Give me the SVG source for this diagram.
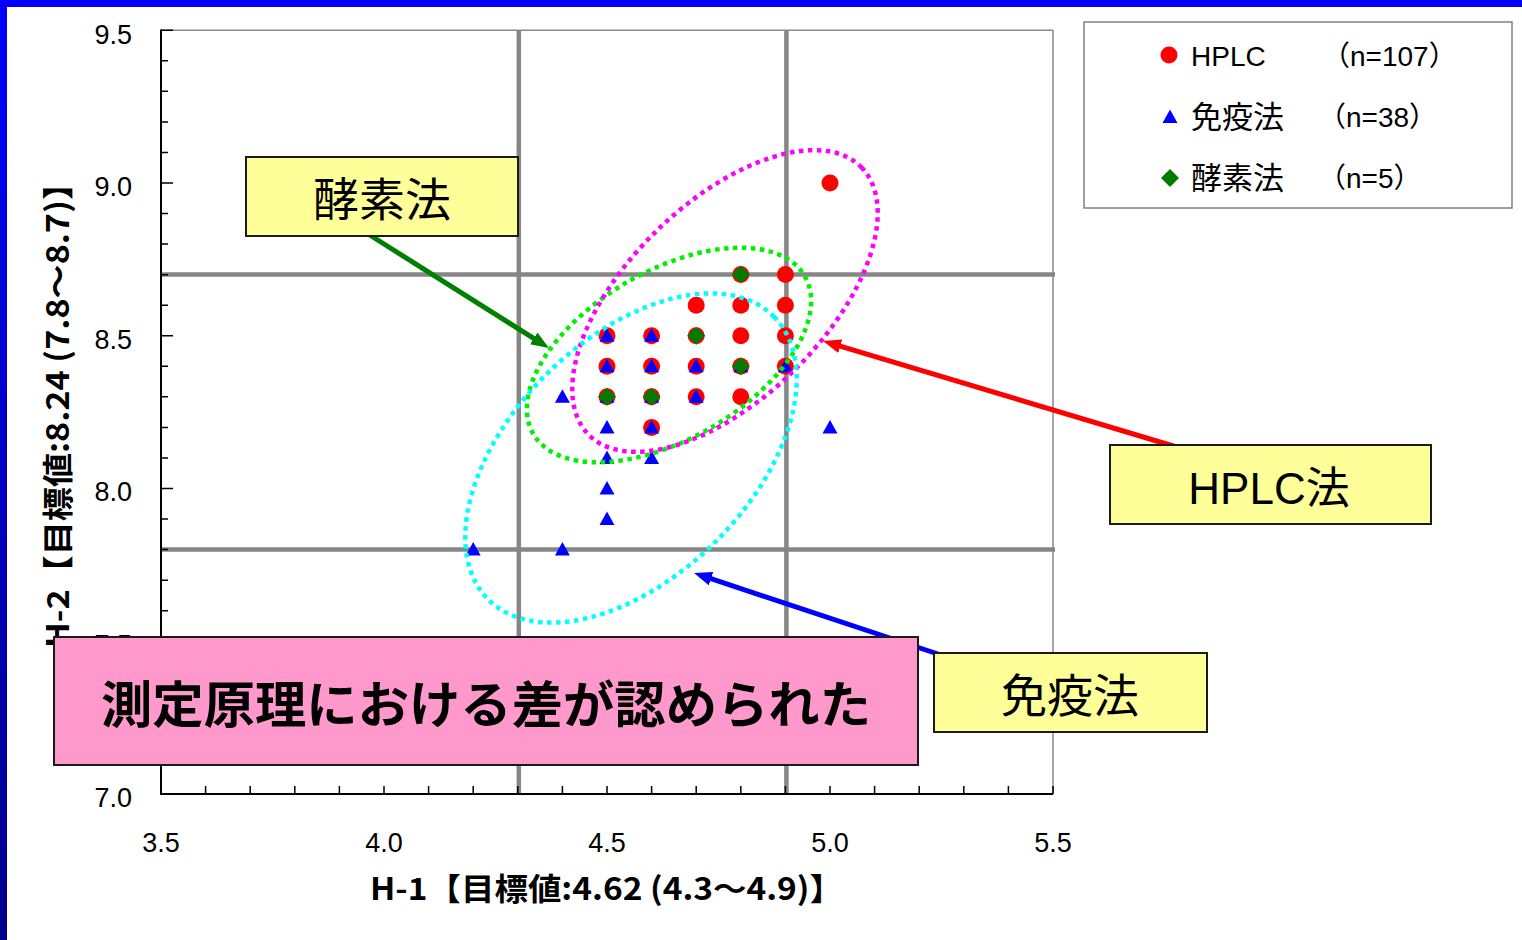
<svg xmlns="http://www.w3.org/2000/svg" xmlns:xlink="http://www.w3.org/1999/xlink" width="1522" height="940" viewBox="0 0 1522 940">
<style>
.tick{stroke:#000;stroke-width:1.5}
.grid{stroke:#868686;stroke-width:4.5}
.lbl{font-family:"Liberation Sans","Noto Sans CJK JP",sans-serif;font-size:27px;fill:#000}
.ttl{font-family:"Noto Sans CJK JP","Liberation Sans",sans-serif;font-size:31px;font-weight:bold;fill:#000}
.box{fill:#ffff99;stroke:#1a1a1a;stroke-width:2}
.btxt{font-family:"Noto Sans CJK JP",sans-serif;font-size:46px;fill:#000;text-anchor:middle}
.htxt{font-family:"Liberation Sans","Noto Sans CJK JP",sans-serif;font-size:44px;fill:#000;text-anchor:middle}
.leg{font-family:"Liberation Sans","Noto Sans CJK JP",sans-serif;font-size:28px;fill:#000}
.legj{font-family:"Noto Sans CJK JP",sans-serif;font-size:31px;fill:#000}
.dot{fill:none;stroke-width:4.5;stroke-dasharray:4.5 4.5}
.r{fill:#ff0000}
.b{fill:#0000ff}
.g{fill:#007a00}
.conn{stroke-width:5;fill:none}
</style>
<defs>
<linearGradient id="lg" x1="0" y1="0" x2="0" y2="1">
<stop offset="0" stop-color="#0000ff"/>
<stop offset="1" stop-color="#00008a"/>
</linearGradient>
<path id="tri" d="M0,-7.5 L7.5,6 L-7.5,6 Z"/>
<path id="dia" d="M0,-9 L9,0 L0,9 L-9,0 Z"/>
<marker id="ag" viewBox="0 0 18 14" refX="8" refY="7" markerWidth="18" markerHeight="14" markerUnits="userSpaceOnUse" orient="auto"><path d="M0,0 L18,7 L0,14 Z" fill="#008000"/></marker>
<marker id="ar" viewBox="0 0 18 14" refX="8" refY="7" markerWidth="18" markerHeight="14" markerUnits="userSpaceOnUse" orient="auto"><path d="M0,0 L18,7 L0,14 Z" fill="#ff0000"/></marker>
<marker id="ab" viewBox="0 0 18 14" refX="8" refY="7" markerWidth="18" markerHeight="14" markerUnits="userSpaceOnUse" orient="auto"><path d="M0,0 L18,7 L0,14 Z" fill="#0000ff"/></marker>
</defs>
<rect width="1522" height="940" fill="#ffffff"/>
<g id="frame">
<rect x="0" y="0" width="1522" height="7" fill="#0000ff"/>
<rect x="0" y="0" width="7" height="940" fill="url(#lg)"/>
</g>
<g id="plot">
<line x1="161" y1="30.25" x2="1053" y2="30.25" stroke="#888" stroke-width="1.5"/>
<line x1="1053" y1="30.25" x2="1053" y2="794" stroke="#888" stroke-width="1.5"/>
<line class="grid" x1="161" y1="274.6" x2="1055" y2="274.6"/>
<line class="grid" x1="161" y1="549.6" x2="1055" y2="549.6"/>
<line class="grid" x1="518.8" y1="30.25" x2="518.8" y2="794"/>
<line class="grid" x1="786.4" y1="30.25" x2="786.4" y2="794"/>
<line x1="161" y1="29.5" x2="161" y2="795" stroke="#000" stroke-width="2"/>
<line x1="160" y1="794" x2="1053" y2="794" stroke="#000" stroke-width="2"/>
<path class="tick" d="M161,30.25h12M161,60.8h7M161,91.35h7M161,121.9h7M161,152.45h7M161,183h12M161,213.55h7M161,244.1h7M161,274.65h7M161,305.2h7M161,335.75h12M161,366.3h7M161,396.85h7M161,427.4h7M161,457.95h7M161,488.5h12M161,519.05h7M161,549.6h7M161,580.15h7M161,610.7h7M161,641.25h12M161,671.8h7M161,702.35h7M161,732.9h7M161,763.45h7"/>
<path class="tick" d="M205.6,794v-8M250.2,794v-8M294.8,794v-8M339.4,794v-8M384,794v-8M428.6,794v-8M473.2,794v-8M517.8,794v-8M562.4,794v-8M607,794v-8M651.6,794v-8M696.2,794v-8M740.8,794v-8M785.4,794v-8M830,794v-8M874.6,794v-8M919.2,794v-8M963.8,794v-8M1008.4,794v-8M1053,794v-8"/>
<g class="lbl" text-anchor="end">
<text x="132" y="44">9.5</text>
<text x="132" y="196">9.0</text>
<text x="132" y="349">8.5</text>
<text x="132" y="501">8.0</text>
<text x="132" y="654">7.5</text>
<text x="132" y="807">7.0</text>
</g>
<g class="lbl" text-anchor="middle">
<text x="161" y="852">3.5</text>
<text x="384" y="852">4.0</text>
<text x="607" y="852">4.5</text>
<text x="830" y="852">5.0</text>
<text x="1053" y="852">5.5</text>
</g>
<text class="ttl" x="370" y="900" textLength="473" lengthAdjust="spacingAndGlyphs">H-1【目標値:4.62 (4.3～4.9)】</text>
<text class="ttl" transform="translate(69,407) rotate(-90)" text-anchor="middle" textLength="482" lengthAdjust="spacingAndGlyphs">H-2【目標値:8.24 (7.8～8.7)】</text>
</g>
<g id="data">
<g class="r">
<circle cx="830" cy="183" r="8.5"/>
<circle cx="785.4" cy="274.6" r="8.5"/>
<circle cx="785.4" cy="305.2" r="8.5"/>
<circle cx="785.4" cy="335.75" r="8.5"/>
<circle cx="785.4" cy="366.3" r="8.5"/>
<circle cx="740.8" cy="274.6" r="8.5"/>
<circle cx="740.8" cy="305.2" r="8.5"/>
<circle cx="740.8" cy="335.75" r="8.5"/>
<circle cx="740.8" cy="366.3" r="8.5"/>
<circle cx="740.8" cy="396.85" r="8.5"/>
<circle cx="696.2" cy="305.2" r="8.5"/>
<circle cx="696.2" cy="335.75" r="8.5"/>
<circle cx="696.2" cy="366.3" r="8.5"/>
<circle cx="696.2" cy="396.85" r="8.5"/>
<circle cx="651.6" cy="335.75" r="8.5"/>
<circle cx="651.6" cy="366.3" r="8.5"/>
<circle cx="651.6" cy="396.85" r="8.5"/>
<circle cx="651.6" cy="427.4" r="8.5"/>
<circle cx="607" cy="335.75" r="8.5"/>
<circle cx="607" cy="366.3" r="8.5"/>
<circle cx="607" cy="396.85" r="8.5"/>
</g>
<g class="b">
<use xlink:href="#tri" href="#tri" x="607" y="335.75"/>
<use xlink:href="#tri" href="#tri" x="607" y="366.3"/>
<use xlink:href="#tri" href="#tri" x="607" y="396.85"/>
<use xlink:href="#tri" href="#tri" x="607" y="427.4"/>
<use xlink:href="#tri" href="#tri" x="607" y="457.95"/>
<use xlink:href="#tri" href="#tri" x="607" y="488.5"/>
<use xlink:href="#tri" href="#tri" x="607" y="519.05"/>
<use xlink:href="#tri" href="#tri" x="651.6" y="335.75"/>
<use xlink:href="#tri" href="#tri" x="651.6" y="366.3"/>
<use xlink:href="#tri" href="#tri" x="651.6" y="396.85"/>
<use xlink:href="#tri" href="#tri" x="651.6" y="427.4"/>
<use xlink:href="#tri" href="#tri" x="651.6" y="457.95"/>
<use xlink:href="#tri" href="#tri" x="696.2" y="366.3"/>
<use xlink:href="#tri" href="#tri" x="696.2" y="396.85"/>
<use xlink:href="#tri" href="#tri" x="740.8" y="366.3"/>
<use xlink:href="#tri" href="#tri" x="785.4" y="366.3"/>
<use xlink:href="#tri" href="#tri" x="562.4" y="396.85"/>
<use xlink:href="#tri" href="#tri" x="562.4" y="549.6"/>
<use xlink:href="#tri" href="#tri" x="473.2" y="549.6"/>
<use xlink:href="#tri" href="#tri" x="830" y="427.4"/>
</g>
<g class="g">
<use xlink:href="#dia" href="#dia" x="740.8" y="274.6"/>
<use xlink:href="#dia" href="#dia" x="696.2" y="335.75"/>
<use xlink:href="#dia" href="#dia" x="740.8" y="366.3"/>
<use xlink:href="#dia" href="#dia" x="607" y="396.85"/>
<use xlink:href="#dia" href="#dia" x="651.6" y="396.85"/>
</g>
</g>
<g id="ellipses">
<ellipse class="dot" stroke="#00f000" cx="669" cy="355" rx="157" ry="84" transform="rotate(-30.2 669 355)"/>
<ellipse class="dot" stroke="#ff00ff" cx="725" cy="301" rx="191" ry="98" transform="rotate(-44.4 725 301)"/>
<ellipse class="dot" stroke="#00ffff" cx="631" cy="458" rx="201" ry="119" transform="rotate(-44.6 631 458)"/>
</g>
<g id="connectors">
<line class="conn" stroke="#008000" x1="365" y1="232" x2="540.5" y2="342.7" marker-end="url(#ag)"/>
<line class="conn" stroke="#ff0000" x1="1190" y1="451" x2="832.6" y2="343.9" marker-end="url(#ar)"/>
<line class="conn" stroke="#0000ff" x1="950" y1="658" x2="703.5" y2="576.2" marker-end="url(#ab)"/>
</g>
<g id="node-kouso">
<rect class="box" x="246" y="157" width="272" height="79"/>
<text class="btxt" x="382" y="216">酵素法</text>
</g>
<g id="node-hplc">
<rect class="box" x="1110" y="445" width="321" height="79"/>
<text class="htxt" x="1269" y="504">HPLC法</text>
</g>
<g id="node-meneki">
<rect class="box" x="934" y="653" width="273" height="79"/>
<text class="btxt" x="1070" y="712">免疫法</text>
</g>
<g id="node-conclusion">
<rect x="54" y="637" width="864" height="128" fill="#ff99cc" stroke="#1a1a1a" stroke-width="2"/>
<text x="486" y="723" font-family="'Noto Sans CJK JP',sans-serif" font-size="50" font-weight="bold" text-anchor="middle" textLength="770" lengthAdjust="spacingAndGlyphs">測定原理における差が認められた</text>
</g>
<g id="legend">
<rect x="1084" y="22" width="428" height="186" fill="#fff" stroke="#808080" stroke-width="1.5"/>
<circle class="r" cx="1169" cy="55" r="8.5"/>
<use class="b" xlink:href="#tri" href="#tri" x="1170" y="117"/>
<use class="g" xlink:href="#dia" href="#dia" x="1170" y="178"/>
<text class="leg" x="1191" y="66">HPLC</text>
<text class="legj" x="1191" y="128">免疫法</text>
<text class="legj" x="1191" y="189">酵素法</text>
<text class="leg" x="1322" y="66">（n=107）</text>
<text class="leg" x="1318" y="127">（n=38）</text>
<text class="leg" x="1318" y="188">（n=5）</text>
</g>
</svg>
